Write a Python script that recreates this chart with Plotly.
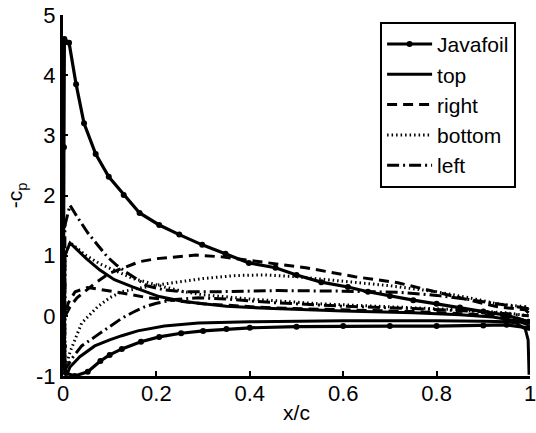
import plotly.graph_objects as go

# ---------------- data ----------------
# Javafoil: upper surface (LE -> TE), leading-edge points, lower surface (LE -> TE)
java_up_x = [0.006, 0.013, 0.028, 0.045, 0.07, 0.098, 0.13, 0.164, 0.206, 0.249, 0.298, 0.348,
             0.398, 0.455, 0.5, 0.553, 0.61, 0.653, 0.7, 0.75, 0.8, 0.85, 0.9, 0.95, 0.997]
java_up_y = [4.55, 4.54, 3.85, 3.2, 2.69, 2.31, 2.01, 1.71, 1.51, 1.35, 1.18, 1.03,
             0.88, 0.8, 0.68, 0.56, 0.48, 0.40, 0.33, 0.26, 0.2, 0.14, 0.07, 0.01, -0.1]
java_le_x = [0.003, 0.002, 0.001, 0.001, 0.002, 0.006]
java_le_y = [4.6, 2.8, 1.5, 0.5, -0.5, -0.95]
java_lo_x = [0.025, 0.053, 0.08, 0.1, 0.126, 0.167, 0.206, 0.253, 0.3, 0.35, 0.4, 0.5,
             0.6, 0.7, 0.8, 0.9, 0.95, 0.997]
java_lo_y = [-1.0, -0.93, -0.75, -0.65, -0.55, -0.43, -0.35, -0.29, -0.25, -0.22, -0.2, -0.18,
             -0.17, -0.17, -0.17, -0.16, -0.15, -0.2]

# top (solid)
top_up_x = [0.004, 0.015, 0.03, 0.05, 0.079, 0.11, 0.149, 0.206, 0.25, 0.29, 0.35, 0.45,
            0.6, 0.75, 0.85, 0.92, 0.97, 0.997]
top_up_y = [1.0, 1.21, 1.1, 0.95, 0.76, 0.6, 0.48, 0.32, 0.25, 0.21, 0.16, 0.12,
            0.08, 0.05, 0.02, -0.02, -0.08, -0.15]
top_lo_x = [0.003, 0.008, 0.015, 0.036, 0.068, 0.1, 0.126, 0.16, 0.217, 0.29, 0.4, 0.6,
            0.8, 0.9, 0.95, 0.97, 0.99, 0.996, 0.998]
top_lo_y = [-0.9, -0.98, -0.85, -0.68, -0.5, -0.4, -0.33, -0.25, -0.17, -0.12, -0.1, -0.08,
            -0.08, -0.09, -0.1, -0.12, -0.22, -0.4, -0.98]

# right (dashed)
right_a_x = [0.005, 0.015, 0.03, 0.05, 0.07, 0.1, 0.13, 0.164, 0.2, 0.234, 0.285, 0.34,
             0.43, 0.52, 0.625, 0.717, 0.796, 0.866, 0.93, 0.99, 0.997]
right_a_y = [0.0, 0.15, 0.3, 0.43, 0.55, 0.71, 0.8, 0.9, 0.95, 0.98, 1.01, 0.98,
             0.89, 0.8, 0.65, 0.55, 0.40, 0.27, 0.15, 0.1, 0.05]
right_b_x = [0.005, 0.011, 0.026, 0.053, 0.09, 0.126, 0.175, 0.217, 0.3, 0.45, 0.6, 0.75,
             0.9, 0.97, 0.997]
right_b_y = [0.0, 0.21, 0.4, 0.47, 0.43, 0.38, 0.31, 0.27, 0.2, 0.13, 0.1, 0.07,
             0.02, -0.03, -0.1]

# bottom (dotted)
bottom_up_x = [0.004, 0.015, 0.03, 0.05, 0.08, 0.11, 0.15, 0.217, 0.26, 0.3, 0.4, 0.55,
               0.7, 0.85, 0.95, 0.997]
bottom_up_y = [1.0, 1.22, 1.12, 1.0, 0.86, 0.75, 0.62, 0.48, 0.4, 0.35, 0.28, 0.2,
               0.15, 0.1, 0.05, 0.0]
bottom_lo_x = [0.004, 0.015, 0.025, 0.04, 0.074, 0.1, 0.125, 0.17, 0.217, 0.3, 0.37, 0.43,
               0.5, 0.6, 0.7, 0.8, 0.87, 0.93, 0.99, 0.997]
bottom_lo_y = [-0.9, -0.6, -0.4, -0.12, 0.15, 0.3, 0.4, 0.47, 0.53, 0.62, 0.67, 0.68,
               0.65, 0.58, 0.5, 0.4, 0.3, 0.2, 0.15, 0.1]

# left (dash-dot)
left_up_x = [0.004, 0.015, 0.03, 0.053, 0.075, 0.095, 0.115, 0.138, 0.16, 0.18, 0.217, 0.26,
             0.33, 0.46, 0.6, 0.72, 0.8, 0.87, 0.93, 0.997]
left_up_y = [1.5, 1.84, 1.65, 1.38, 1.17, 0.98, 0.84, 0.71, 0.6, 0.5, 0.43, 0.4,
             0.4, 0.42, 0.41, 0.39, 0.34, 0.27, 0.2, 0.12]
left_lo_x = [0.004, 0.02, 0.04, 0.068, 0.1, 0.126, 0.15, 0.175, 0.2, 0.24, 0.29, 0.35,
             0.45, 0.6, 0.75, 0.9, 0.997]
left_lo_y = [-0.9, -0.7, -0.5, -0.35, -0.18, -0.04, 0.06, 0.15, 0.21, 0.27, 0.3, 0.28,
             0.22, 0.16, 0.12, 0.07, 0.0]

x_ticks = [0, 0.2, 0.4, 0.6, 0.8, 1]
x_tick_labels = ["0", "0.2", "0.4", "0.6", "0.8", "1"]
y_ticks = [-1, 0, 1, 2, 3, 4, 5]
y_tick_labels = ["-1", "0", "1", "2", "3", "4", "5"]


def loop(ux, uy, lx, ly, mx=None, my=None):
    mx = mx or []
    my = my or []
    return (ux[::-1] + mx + lx, uy[::-1] + my + ly)


FONT = "Liberation Sans, Arial, sans-serif"
fig = go.Figure()

jx, jy = loop(java_up_x, java_up_y, java_lo_x, java_lo_y, java_le_x, java_le_y)
fig.add_trace(go.Scatter(x=jx, y=jy, name="Javafoil", mode="lines+markers",
                         line=dict(color="black", width=3.2),
                         marker=dict(color="black", size=6, symbol="circle")))

tx, ty = loop(top_up_x, top_up_y, top_lo_x, top_lo_y)
fig.add_trace(go.Scatter(x=tx, y=ty, name="top", mode="lines",
                         line=dict(color="black", width=3, simplify=False)))

rx, ry = loop(right_a_x, right_a_y, right_b_x, right_b_y)
fig.add_trace(go.Scatter(x=rx, y=ry, name="right", mode="lines",
                         line=dict(color="black", width=3, dash="10px,6px")))

bx, by = loop(bottom_up_x, bottom_up_y, bottom_lo_x, bottom_lo_y)
fig.add_trace(go.Scatter(x=bx, y=by, name="bottom", mode="lines",
                         line=dict(color="black", width=3, dash="1.5px,3px")))

lx_, ly_ = loop(left_up_x, left_up_y, left_lo_x, left_lo_y)
fig.add_trace(go.Scatter(x=lx_, y=ly_, name="left", mode="lines",
                         line=dict(color="black", width=3, dash="12px,4px,2px,4px")))

axis_common = dict(showline=True, linecolor="black", linewidth=3, mirror=False,
                   ticks="inside", ticklen=5, tickwidth=2, tickcolor="black",
                   showgrid=False, zeroline=False, ticklabeloverflow="allow",
                   automargin=False,
                   tickfont=dict(family=FONT, size=22, color="black"))

fig.update_xaxes(range=[0, 1], tickvals=x_ticks, ticktext=x_tick_labels,
                 title=dict(text="x/c", font=dict(family=FONT, size=21, color="black"), standoff=0),
                 ticklabelstandoff=-4,
                 **axis_common)
fig.update_yaxes(range=[-1, 5], tickvals=y_ticks, ticktext=y_tick_labels,
                 title=dict(text="-c<sub>p</sub>", font=dict(family=FONT, size=21, color="black"), standoff=8),
                 **axis_common)

fig.update_layout(
    width=536, height=433, autosize=False,
    margin=dict(l=63, r=6, t=15, b=57),
    paper_bgcolor="white", plot_bgcolor="white",
    font=dict(family=FONT, color="black"),
    legend=dict(x=0.679, y=0.981, xanchor="left", yanchor="top",
                bgcolor="white", bordercolor="black", borderwidth=2,
                font=dict(family=FONT, size=21, color="black"),
                itemwidth=45, tracegroupgap=0),
)

fig.write_html("out.html")
